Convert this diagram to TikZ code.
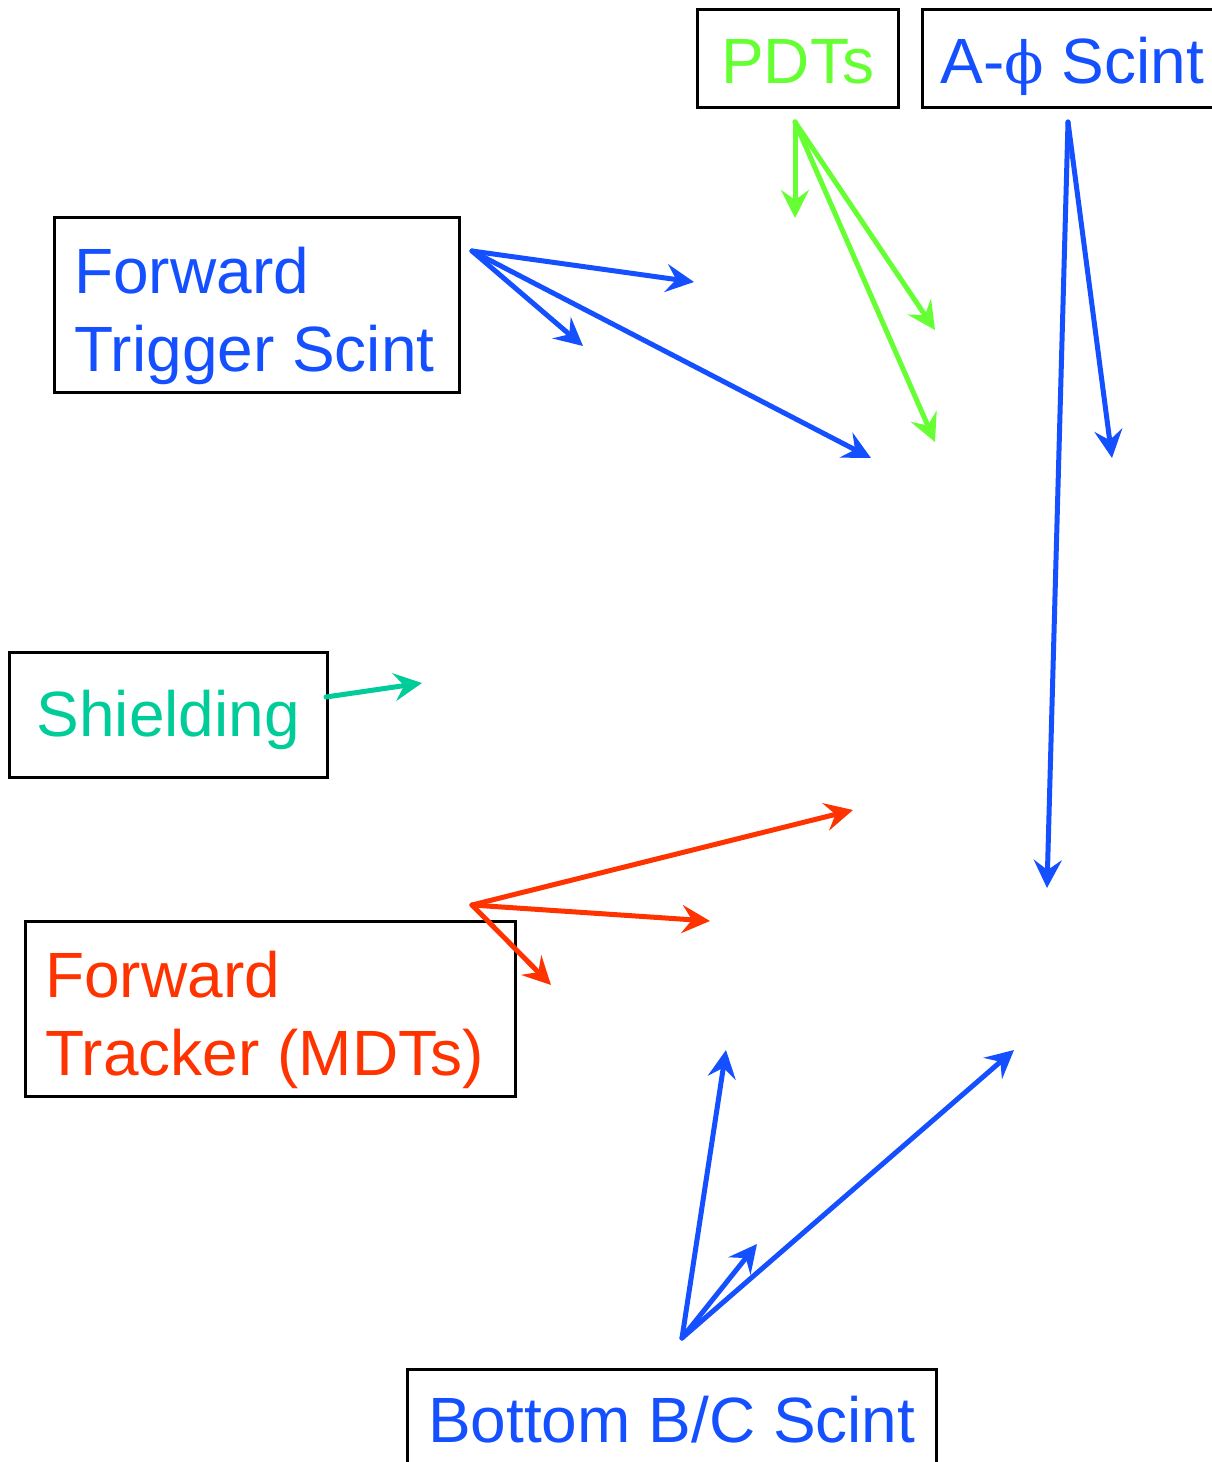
\documentclass[tikz,border=0pt]{standalone}
\usepackage{fontspec}
\setmainfont{Liberation Sans}
\newfontfamily\phifont{DejaVu Serif}
\usetikzlibrary{arrows.meta}
\definecolor{detblue}{RGB}{20,80,255}
\definecolor{pdtgreen}{RGB}{102,255,51}
\definecolor{shieldteal}{RGB}{0,204,153}
\definecolor{trackred}{RGB}{255,51,0}

\begin{document}
\begin{tikzpicture}[x=1pt, y=-1pt,
  box/.style={draw, line width=2.5pt, anchor=north west, inner ysep=0pt,
    font=\fontsize{64}{78}\selectfont},
  twoline/.style={box, align=flush left, inner xsep=20pt, text width=#1,
    text height=76pt, text depth=99pt},
  oneline/.style={box, inner xsep=0pt},
  arr/.style={line width=5pt, line cap=round,
    -{Stealth[length=28pt,width=28pt,inset=10pt]}}]
\useasboundingbox (0,0) rectangle (1212,1462);

% boxes
\node[twoline=365pt, text=detblue] (fts) at (53,216) {Forward\\Trigger~Scint};
\node[twoline=450pt, text=trackred] (fwt) at (24,920) {Forward\\Tracker~(MDTs)};
\node[oneline, minimum width=201pt, text height=74pt, text depth=24pt,
  text=pdtgreen] (pdt) at (696,8) {PDTs};
\node[oneline, minimum width=300pt, text height=74pt, text depth=24pt,
  text=detblue] (aphi) at (921,8) {A-{\phifont\fontsize{58}{78}\selectfont ϕ} Scint};
\node[oneline, minimum width=318pt, text height=84pt, text depth=41pt,
  text=shieldteal] (shield) at (8,651) {Shielding};
\node[oneline, minimum width=529pt, text height=73pt, text depth=40pt,
  text=detblue] (bbc) at (406,1368) {Bottom B/C Scint};

% arrow ends
\coordinate (fts-o) at (472,251);
\coordinate (fts-a) at (694,282);
\coordinate (fts-b) at (583,346);
\coordinate (fts-c) at (871,458);
\coordinate (pdt-o) at (795,122);
\coordinate (pdt-a) at (795,218);
\coordinate (pdt-b) at (935,330);
\coordinate (pdt-c) at (935,442);
\coordinate (aphi-o) at (1068,122);
\coordinate (aphi-a) at (1112,458);
\coordinate (aphi-b) at (1047,888);
\coordinate (shield-o) at (326,697);
\coordinate (shield-a) at (422,683);
\coordinate (fwt-o) at (472,905);
\coordinate (fwt-a) at (853,810);
\coordinate (fwt-b) at (710,921);
\coordinate (fwt-c) at (551,985);
\coordinate (bbc-o) at (682,1338);
\coordinate (bbc-a) at (726,1050);
\coordinate (bbc-b) at (757,1244);
\coordinate (bbc-c) at (1014,1050);

% arrows
\foreach\t in {a,b,c}{
  \draw[arr, detblue] (fts-o) -- (fts-\t);
  \draw[arr, pdtgreen] (pdt-o) -- (pdt-\t);
  \draw[arr, trackred] (fwt-o) -- (fwt-\t);
  \draw[arr, detblue] (bbc-o) -- (bbc-\t);
}
\foreach\t in {a,b}
  \draw[arr, detblue] (aphi-o) -- (aphi-\t);
\draw[arr, shieldteal] (shield-o) -- (shield-a);
\end{tikzpicture}
\end{document}
